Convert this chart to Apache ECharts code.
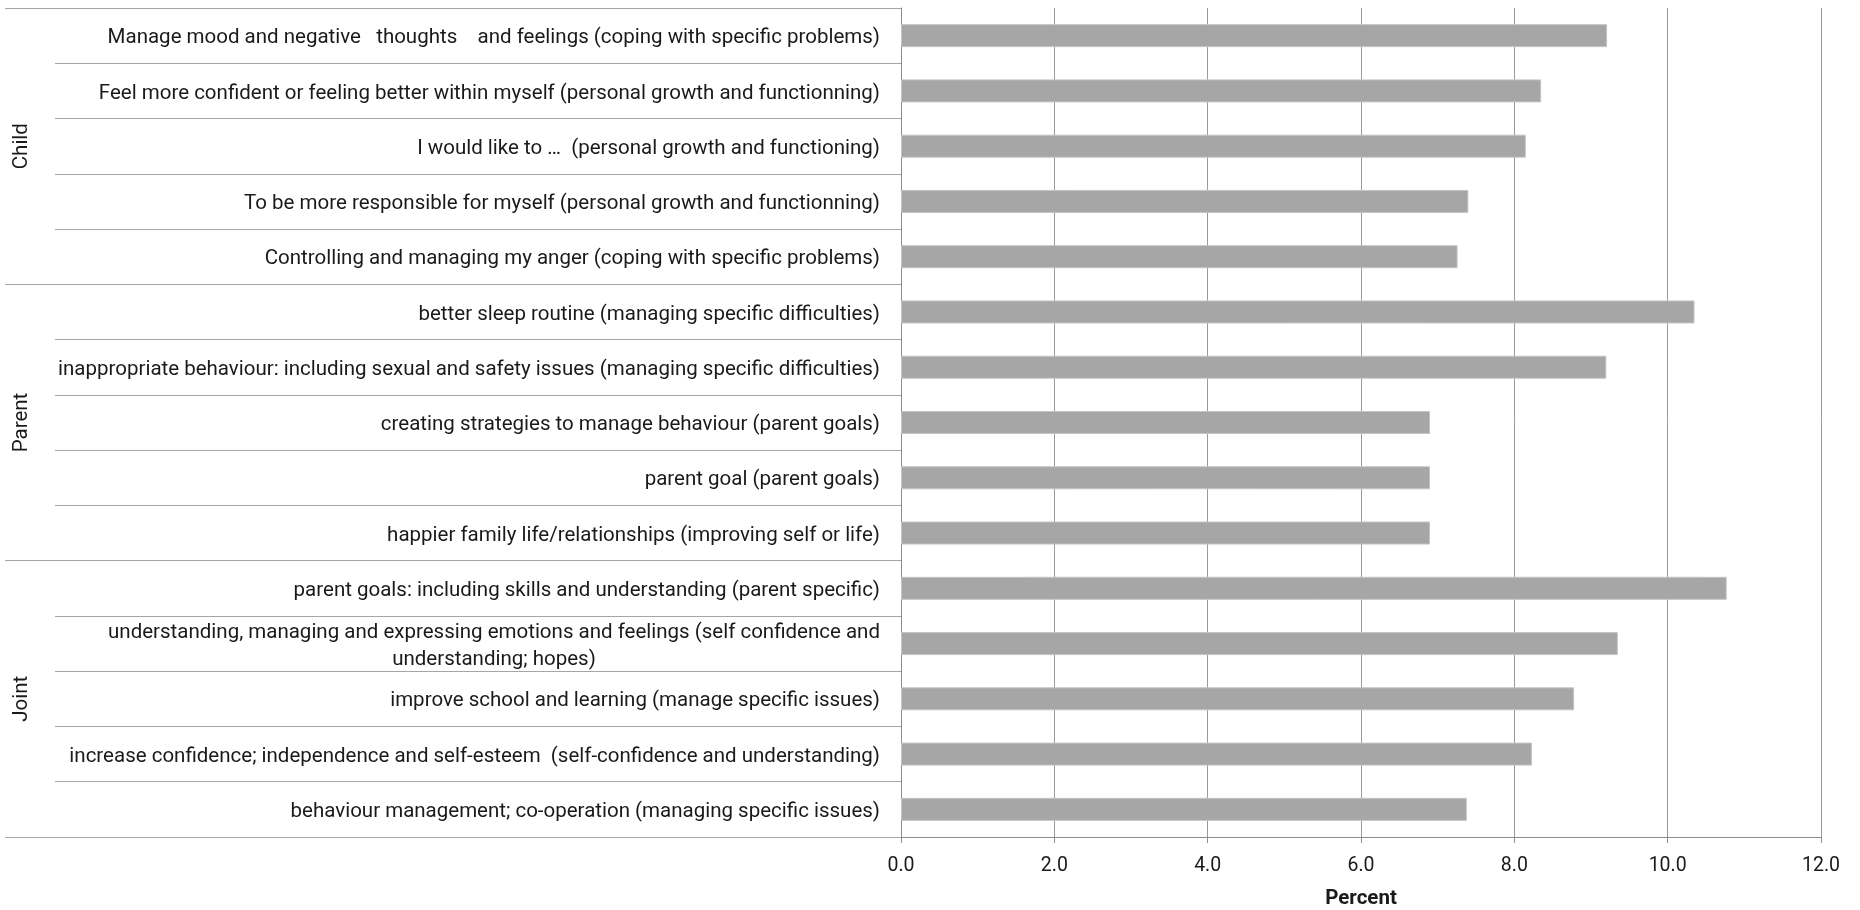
<!DOCTYPE html>
<html>
<head>
<meta charset="utf-8">
<title>Goals by respondent group</title>
<script src="https://cdn.jsdelivr.net/npm/echarts@6/dist/echarts.min.js"></script>
<style>
  html, body { margin: 0; padding: 0; background: #ffffff; }
  #chart { width: 1860px; height: 910px; }
</style>
</head>
<body>
<div id="chart"></div>
<script>
// Respondent groups, each covering five goal categories (top to bottom)
const groups = ['Child', 'Parent', 'Joint'];

const categories = [
  'Manage mood and negative   thoughts    and feelings (coping with specific problems)',
  'Feel more confident or feeling better within myself (personal growth and functionning)',
  'I would like to …  (personal growth and functioning)',
  'To be more responsible for myself (personal growth and functionning)',
  'Controlling and managing my anger (coping with specific problems)',
  'better sleep routine (managing specific difficulties)',
  'inappropriate behaviour: including sexual and safety issues (managing specific difficulties)',
  'creating strategies to manage behaviour (parent goals)',
  'parent goal (parent goals)',
  'happier family life/relationships (improving self or life)',
  'parent goals: including skills and understanding (parent specific)',
  'understanding, managing and expressing emotions and feelings (self confidence and\nunderstanding; hopes)',
  'improve school and learning (manage specific issues)',
  'increase confidence; independence and self-esteem  (self-confidence and understanding)',
  'behaviour management; co-operation (managing specific issues)'
];

const percentValues = [
  9.21, 8.35, 8.15, 7.40, 7.26,
  10.35, 9.20, 6.90, 6.90, 6.90,
  10.77, 9.35, 8.78, 8.23, 7.38
];

const xTickMin = 0;
const xTickMax = 12;
const xTickStep = 2;

const FONT = 'Roboto, "Open Sans", sans-serif';
const TEXT = '#1a1a1a';
const AXIS_GREY = '#8c8c8c';
const SEP_GREY = '#a6a6a6';
const LABEL_SIZE = 20.5;

const chart = echarts.init(document.getElementById('chart'), null, { renderer: 'canvas' });

chart.setOption({
  animation: false,
  backgroundColor: '#ffffff',
  textStyle: { fontFamily: FONT },
  grid: {
    left: 901, right: 39, top: 8, bottom: 73,
    containLabel: false,
    outerBoundsMode: 'none'
  },
  xAxis: {
    type: 'value',
    min: xTickMin,
    max: xTickMax,
    interval: xTickStep,
    name: 'Percent',
    nameLocation: 'middle',
    nameGap: 51,
    nameTextStyle: { fontFamily: FONT, fontSize: LABEL_SIZE, fontWeight: 'bold', color: TEXT },
    axisLine: { show: true, lineStyle: { color: AXIS_GREY, width: 1 } },
    axisTick: { show: true, length: 6, lineStyle: { color: AXIS_GREY } },
    axisLabel: {
      margin: 19,
      fontFamily: FONT,
      fontSize: 19.5,
      color: TEXT,
      formatter: v => v.toFixed(1)
    },
    splitLine: { show: true, lineStyle: { color: '#9a9a9a', width: 1 } }
  },
  yAxis: [
    {
      // goal categories; ticks stretch left to frame each label row
      type: 'category',
      data: categories,
      inverse: true,
      position: 'left',
      axisLine: { show: true, lineStyle: { color: AXIS_GREY, width: 1 } },
      axisTick: { show: true, length: 846, lineStyle: { color: SEP_GREY, width: 1 } },
      axisLabel: {
        margin: 21,
        padding: [5, 0, 0, 0],
        fontFamily: FONT,
        fontSize: LABEL_SIZE,
        color: TEXT,
        lineHeight: 27,
        formatter: function (label) {
          if (label.indexOf('\n') < 0) return label;
          return label.split('\n').map(s => '{c|' + s + '}').join('\n');
        },
        rich: {
          c: { align: 'center', fontFamily: FONT, fontSize: LABEL_SIZE, color: TEXT, lineHeight: 27 }
        }
      },
      splitLine: { show: false }
    },
    {
      // respondent group level; ticks reach the outer edge of the label frame
      type: 'category',
      data: groups,
      inverse: true,
      position: 'left',
      axisLine: { show: false },
      axisTick: { show: true, length: 896, lineStyle: { color: SEP_GREY, width: 1 } },
      axisLabel: {
        rotate: 90,
        margin: 869,
        fontFamily: FONT,
        fontSize: LABEL_SIZE,
        color: TEXT
      },
      splitLine: { show: false }
    }
  ],
  series: [
    {
      type: 'bar',
      yAxisIndex: 0,
      data: percentValues,
      barWidth: 23,
      itemStyle: { color: '#a6a6a6', borderColor: '#c4c4c4', borderWidth: 1 }
    }
  ]
});
</script>
</body>
</html>
